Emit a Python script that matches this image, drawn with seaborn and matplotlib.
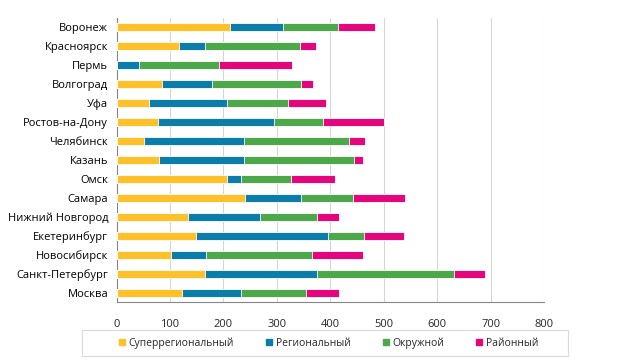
import matplotlib
matplotlib.use("Agg")
import matplotlib.pyplot as plt
import seaborn as sns
import numpy as np
import pandas as pd
from matplotlib.lines import Line2D
from matplotlib.patches import Rectangle

cities = ["Воронеж", "Красноярск", "Пермь", "Волгоград", "Уфа", "Ростов-на-Дону",
          "Челябинск", "Казань", "Омск", "Самара", "Нижний Новгород", "Екетеринбург",
          "Новосибирск", "Санкт-Петербург", "Москва"]
series_names = ["Суперрегиональный", "Региональный", "Окружной", "Районный"]
superregional = [212, 117, 0, 85, 60, 78, 51, 80, 206, 240, 133, 148, 102, 166, 122]
regional = [100, 49, 42, 93, 146, 217, 188, 159, 27, 105, 135, 248, 65, 209, 111]
okrug = [103, 177, 149, 167, 115, 91, 196, 206, 94, 98, 107, 66, 198, 257, 122]
rayon = [68, 30, 138, 23, 71, 115, 30, 16, 82, 96, 42, 76, 96, 57, 62]
x_ticks = [0, 100, 200, 300, 400, 500, 600, 700, 800]

colors = ["#FFC02A", "#0B7DAB", "#4DA84A", "#E5067D"]

sns.set_style("white")
plt.rcParams['font.family'] = ['Open Sans', 'DejaVu Sans']

fig = plt.figure(figsize=(6.27, 3.62), dpi=100)
ax = fig.add_axes([116.5 / 627, 1 - 302 / 362, (544.3 - 116.5) / 627, (302 - 18) / 362])

data = np.array([superregional, regional, okrug, rayon], dtype=float)
cum = np.cumsum(data, axis=0)
for i in range(3, -1, -1):
    df = pd.DataFrame({"city": cities, "value": cum[i]})
    sns.barplot(data=df, x="value", y="city", color=colors[i], width=0.42,
                orient="h", ax=ax, saturation=1, linewidth=0.6, edgecolor="white",
                zorder=3)

ax.set_xlim(0, 800)
ax.set_ylim(14.5, -0.5)
ax.set_xticks(x_ticks)
ax.set_xticklabels([str(t) for t in x_ticks])
ax.set_xlabel("")
ax.set_ylabel("")
ax.xaxis.grid(True, color="#D4D4D4", linewidth=0.75, zorder=0)
ax.yaxis.grid(False)
ax.set_axisbelow(True)
for s in ["top", "right"]:
    ax.spines[s].set_visible(False)
for s in ["left", "bottom"]:
    ax.spines[s].set_color("#868686")
    ax.spines[s].set_linewidth(0.8)
ax.tick_params(axis="y", length=0, labelsize=8, pad=6, colors="black")
ax.set_yticks(np.arange(-0.5, 15, 1), minor=True)
ax.tick_params(axis="y", which="minor", length=4, color="#868686", width=0.8)
ax.tick_params(axis="x", length=4, color="#868686", width=0.8, labelsize=8, pad=8)

# legend box
fig.patches.append(Rectangle((82 / 627, 1 - 356 / 362), (568 - 82) / 627, 26 / 362,
                             transform=fig.transFigure, fill=False,
                             edgecolor="#D9D9D9", linewidth=0.8))
handles = [Line2D([0], [0], marker="s", linestyle="", markersize=5,
                  markerfacecolor=c, markeredgecolor=c) for c in colors]
leg = fig.legend(handles, series_names, loc="center left",
                 bbox_to_anchor=(114 / 627, 1 - 343 / 362), ncol=4,
                 frameon=False, fontsize=7.5, handlelength=0.6, handletextpad=0.3,
                 columnspacing=3.1, borderpad=0.0)

fig.savefig("out.png", dpi=100)
